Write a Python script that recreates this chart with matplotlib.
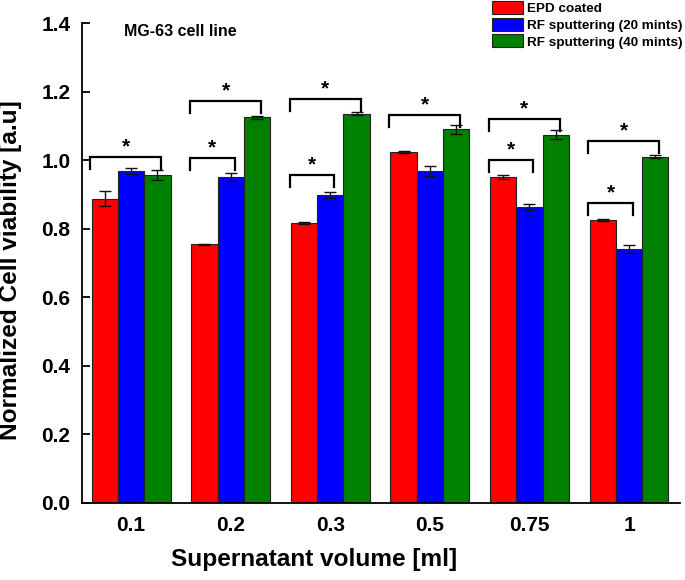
import matplotlib
matplotlib.use("Agg")
import matplotlib.pyplot as plt
import numpy as np

plt.rcParams['font.family'] = ['Liberation Sans', 'DejaVu Sans']
plt.rcParams['font.weight'] = 'bold'

categories = ["0.1", "0.2", "0.3", "0.5", "0.75", "1"]
series_names = ["EPD coated", "RF sputtering (20 mints)", "RF sputtering (40 mints)"]
epd = [0.888, 0.754, 0.817, 1.024, 0.951, 0.825]
rf20 = [0.969, 0.951, 0.898, 0.969, 0.863, 0.740]
rf40 = [0.956, 1.125, 1.136, 1.090, 1.075, 1.010]
epd_err = [0.022, 0.002, 0.003, 0.003, 0.006, 0.003]
rf20_err = [0.008, 0.012, 0.008, 0.015, 0.008, 0.011]
rf40_err = [0.014, 0.005, 0.004, 0.012, 0.013, 0.004]
colors = ["#FF0000", "#0000FF", "#008000"]

# significance brackets: (group, bar_from, bar_to, height)
brackets = [
    (0, 0, 2, 1.010),
    (1, 0, 1, 1.007), (1, 0, 2, 1.173),
    (2, 0, 1, 0.958), (2, 0, 2, 1.180),
    (3, 0, 2, 1.133),
    (4, 0, 1, 1.000), (4, 0, 2, 1.120),
    (5, 0, 1, 0.876), (5, 0, 2, 1.055),
]

fig = plt.figure(figsize=(6.85, 5.8), dpi=100)
ax = fig.add_axes([81.7 / 685, 1 - 502.5 / 580, (680 - 81.7) / 685, (502.5 - 23.3) / 580])

x = np.arange(len(categories))
w = 0.264
vals = [epd, rf20, rf40]
errs = [epd_err, rf20_err, rf40_err]
for i in range(3):
    ax.bar(x + (i - 1) * w, vals[i], w, color=colors[i], edgecolor='#222222',
           linewidth=0.8, label=series_names[i], zorder=2)
    ax.errorbar(x + (i - 1) * w, vals[i], yerr=errs[i], fmt='none',
                ecolor='#111111', elinewidth=1, capsize=4, capthick=1, zorder=3)

leg_drop = 0.035
for g, a, b, h in brackets:
    xa = g + (a - 1) * w - 0.55 * w
    xb = g + (b - 1) * w + 0.15 * w
    ax.plot([xa, xa, xb, xb], [h - leg_drop, h, h, h - leg_drop], color='black',
            lw=1.6, zorder=4, solid_joinstyle='miter', clip_on=False)
    ax.text((xa + xb) / 2, h + 0.002, '*', ha='center', va='bottom',
            fontsize=15, fontweight='bold')

ax.set_ylim(0, 1.4)
ax.set_xlim(-0.497, 5.512)
yt = np.round(np.arange(0, 1.41, 0.2), 1)
ax.set_yticks(yt)
ax.set_yticklabels([f"{v:.1f}" for v in yt])
ax.set_xticks(x)
ax.set_xticklabels(categories)
ax.tick_params(axis='y', direction='in', length=6, width=1.3, labelsize=15, pad=8)
ax.tick_params(axis='x', length=0, labelsize=15, pad=10)
for lab in ax.get_xticklabels() + ax.get_yticklabels():
    lab.set_fontweight('bold')
ax.spines['top'].set_visible(False)
ax.spines['right'].set_visible(False)
ax.spines['left'].set_linewidth(1.3)
ax.spines['bottom'].set_linewidth(1.3)

ax.set_xlabel("Supernatant volume [ml]", fontsize=17.6, fontweight='bold')
ax.set_ylabel("Normalized Cell viability [a.u]", fontsize=17.6, fontweight='bold')
ax.xaxis.set_label_coords((314 - 81.7) / 598.3, -0.095)
ax.yaxis.set_label_coords(-0.1, 0.485)

fig.text(124 / 685, 1 - 32 / 580, "MG-63 cell line", fontsize=11.5,
         fontweight='bold', va='center', ha='left')

leg = fig.legend(loc='upper left', bbox_to_anchor=(491.7 / 685, 1 - 1.0 / 580),
                 frameon=False, fontsize=9.7, handlelength=2.3, handleheight=1.1,
                 handletextpad=0.35, labelspacing=0.2, borderpad=0, borderaxespad=0)
for t in leg.get_texts():
    t.set_fontweight('bold')

fig.savefig("out.png", dpi=100)
